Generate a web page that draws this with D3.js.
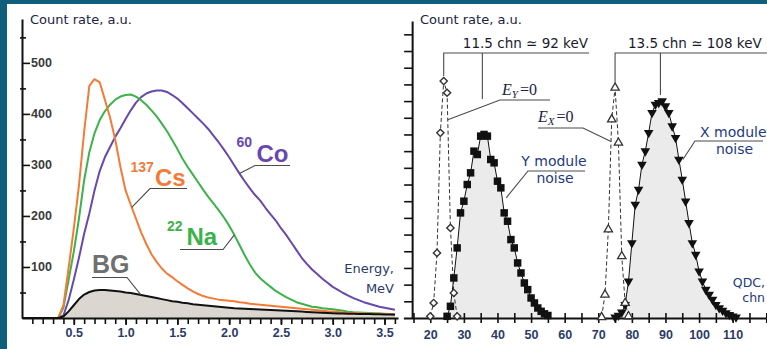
<!DOCTYPE html>
<html>
<head>
<meta charset="utf-8">
<script src="https://cdn.jsdelivr.net/npm/d3@7"></script>
<style>
  html, body { margin: 0; padding: 0; background: #0f5f7c; }
  svg { display: block; }
</style>
</head>
<body>
<svg id="chart" width="767" height="349"></svg>
<script>
// ---------- Left panel: scintillator spectra (energy in MeV) ----------
const energy = [0.00,
  0.35,0.40,0.45,0.50,0.55,0.60,0.65,0.70,0.75,0.80,0.85,0.90,0.95,1.00,1.05,1.10,1.15,1.20,1.25,1.30,
  1.35,1.40,1.45,1.50,1.55,1.60,1.65,1.70,1.75,1.80,1.85,1.90,1.95,2.00,2.05,2.10,2.15,2.20,2.25,2.30,
  2.35,2.40,2.45,2.50,2.55,2.60,2.65,2.70,2.75,2.80,2.85,2.90,2.95,3.00,3.05,3.10,3.15,3.20,3.25,3.30,
  3.35,3.40,3.45,3.50,3.55,3.60];
const cs137 = [0,
  0,25,98,175,260,365,455,468,462,428,393,350,296,250,222,195,168,145,125,110,
  97,87,80,72,65,58,52,47,43,40,38,36,35,34,33,31,30,28,27,26,
  25,24,23,22,21,20,19,18,17,16,15,14,13,12.5,12,11,10.5,10,9.5,9,
  9,8.5,8.5,8,8,8];
const na22 = [0,
  0,20,75,130,195,270,325,362,388,405,418,428,434,437,438,434,427,418,407,395,
  381,366,349,331,312,296,281,266,251,237,224,211,197,181,163,143,123,105,89,78,
  69,61,53,47,41,36,31,28,25,22,21,19,18,17,15.5,14,12.5,11.5,11,10.5,
  10,9.5,9,8.5,8,8];
const co60 = [0,
  0,5,35,75,118,165,205,250,288,315,335,355,372,390,407,422,433,440,444,446,
  446,443,437,430,421,411,401,391,381,370,357,344,330,315,299,283,268,254,241,230,
  216,203,191,176,163,148,133,118,106,95,86,77,69,61,55,49,44,39,35,31,
  28,25,22,20,18,16];
const background = [0,
  0,3,13,25,37,46,51,54,55,55,54,53,52,50,49,47,45,43,41,39,
  37,35,33,32,30,29,27,26,25,24,23,22,21,20,19,18.5,18,17.5,17,16.5,
  16,15.5,15,14.5,14,13.5,13,12.5,12,11.5,11,10.5,10,9.5,9,9,8.5,8.5,8,8,
  8,7.5,7.5,7,7,6.5];
const energyTicks = [0.5,1.0,1.5,2.0,2.5,3.0,3.5];
const energyMinorTicks = d3.range(1, 37).map(i => i / 10);
const countTicks = [100,200,300,400,500];
const countMinorTicks = [50,150,250,350,450,550];

// ---------- Right panel: QDC noise spectra (channels) ----------
const pedYChn = [20,21,22,23,24,25,26,27,28];
const pedY    = [1,9,39,111,142,135,54,15,1];
const noiseYChn = d3.range(25, 56);
const noiseY = [1,7,24,42,63,70,80,87,100,98,109,110,109,95,93,82,78,63,58,47,42,33,27,21,17,12,9,6,4,2.5,1.5];
const pedXChn = [71,72,73,74,75,76,77,78,79];
const pedX    = [0.5,14,53,119,138,105,37,9,1];
const noiseXChn = d3.range(75, 112);
const noiseX = [0.5,1.5,3.5,8,22,45,68,77,92,100,111,123,128,129,130,127,123,115,108,95,83,70,57,45,38,28,22,17,14,11,8,6,4.5,3,2,1,0.5];
const chnTicks = [20,30,40,50,60,70,80,90,100,110];
const chnMinorTicks = d3.range(15, 121, 5);
const countTicksR = d3.range(10, 171, 10);
// pedestal-to-noise peak distances, channels and keV
const gapY = { chn: 11.5, keV: 92 };
const gapX = { chn: 13.5, keV: 108 };

// ---------- colours and fonts ----------
const C = {
  frame: "#0f5f7c", cs: "#f47b36", na: "#3bb34a", co: "#6848ae", bg: "#6f6f6f",
  bgFill: "#dbd6cf", ink: "#1c2242", tickInk: "#2c3a66", yInk: "#3a3a3a",
  blue: "#243a80", lead: "#4a4a4a", noiseFill: "#ebebeb"
};
const SANS = "'DejaVu Sans', sans-serif";
const BOLD = "'Liberation Sans', Arial, sans-serif";
const SERIF = "'Liberation Serif', 'Times New Roman', serif";

const W = 767, H = 349;
const svg = d3.select("#chart");
svg.append("rect").attr("width", W).attr("height", H).attr("fill", C.frame);
svg.append("rect").attr("x", 7).attr("y", 4).attr("width", W - 7).attr("height", H - 4).attr("fill", "#fff");

// ================= LEFT PANEL =================
const xL = d3.scaleLinear().domain([0, 3.63]).range([22, 398]);
const yL = d3.scaleLinear().domain([0, 586]).range([318, 19]);
const left = svg.append("g");

const areaL = d3.area().x((d, i) => xL(energy[i])).y0(yL(0)).y1(d => yL(d));
const lineL = d3.line().x((d, i) => xL(energy[i])).y(d => yL(d));

left.append("path").attr("d", areaL(background)).attr("fill", C.bgFill);
[[co60, C.co], [na22, C.na], [cs137, C.cs]].forEach(([s, col]) => {
  left.append("path").attr("d", lineL(s)).attr("fill", "none")
    .attr("stroke", col).attr("stroke-width", 2).attr("stroke-linejoin", "round");
});
left.append("path").attr("d", lineL(background)).attr("fill", "none")
  .attr("stroke", "#111").attr("stroke-width", 2).attr("stroke-linejoin", "round");

// axes
const styleAxis = (g, w) => {
  g.select(".domain").attr("stroke", "#111").attr("stroke-width", w);
  g.selectAll(".tick line").attr("stroke", "#111").attr("stroke-width", 1.6);
};
left.append("g").attr("transform", `translate(0,${yL(0)})`)
  .call(d3.axisBottom(xL).tickValues(energyMinorTicks).tickSize(6).tickFormat("").tickSizeOuter(0))
  .call(g => styleAxis(g, 2));
left.append("g").attr("transform", `translate(0,${yL(0)})`)
  .call(d3.axisBottom(xL).tickValues(energyTicks).tickSize(7).tickPadding(3).tickFormat(d3.format(".1f")).tickSizeOuter(0))
  .call(g => { g.select(".domain").remove(); styleAxis(g, 2); })
  .call(g => g.selectAll("text").attr("font-family", BOLD).attr("font-weight", "bold")
    .attr("font-size", 12.5).attr("fill", C.tickInk));
left.append("g").attr("transform", `translate(${xL(0) - 2},0)`)
  .call(d3.axisRight(yL).tickValues(countMinorTicks).tickSize(6).tickFormat(""))
  .call(g => { g.select(".domain").remove(); styleAxis(g, 2); });
left.append("g").attr("transform", `translate(${xL(0)},0)`)
  .call(d3.axisRight(yL).tickValues(countTicks).tickSize(8).tickPadding(1).tickSizeOuter(0))
  .call(g => styleAxis(g, 2))
  .call(g => g.selectAll("text").attr("font-family", BOLD).attr("font-weight", "bold")
    .attr("font-size", 12.5).attr("fill", C.yInk));

left.append("text").attr("x", 30).attr("y", 24).attr("font-family", SANS).attr("font-size", 13)
  .attr("fill", C.ink).text("Count rate, a.u.");
left.append("text").attr("x", 394).attr("y", 273).attr("text-anchor", "end").attr("font-family", SANS)
  .attr("font-size", 13).attr("fill", C.tickInk).text("Energy,");
left.append("text").attr("x", 394).attr("y", 293).attr("text-anchor", "end").attr("font-family", SANS)
  .attr("font-size", 13).attr("fill", C.tickInk).text("MeV");

// source labels with underline and leader to the curve
const onCurve = s => d3.scaleLinear().domain(energy.slice(1)).range(s.slice(1));
function sourceLabel(o) {
  const g = left.append("g");
  if (o.sup) g.append("text").attr("x", o.supX).attr("y", o.base - 14.5).attr("font-family", BOLD)
    .attr("font-weight", "bold").attr("font-size", 14).attr("fill", o.color).text(o.sup);
  g.append("text").attr("x", o.x).attr("y", o.base).attr("font-family", BOLD).attr("font-weight", "bold")
    .attr("font-size", o.size).attr("fill", o.color).text(o.name);
  const ax = xL(o.at), ay = yL(onCurve(o.series)(o.at));
  g.append("path").attr("d", `M${o.u1},${o.uy}H${o.u0}L${ax},${ay}`)
    .attr("fill", "none").attr("stroke", C.lead).attr("stroke-width", 1.1);
}
sourceLabel({ name: "Cs", sup: "137", supX: 130.5, x: 155, base: 186, size: 24, color: C.cs,
  u0: 150, u1: 187, uy: 188.5, series: cs137, at: 1.06 });
sourceLabel({ name: "Na", sup: "22", supX: 167, x: 186.5, base: 245, size: 24, color: C.na,
  u0: 223, u1: 180, uy: 249.5, series: na22, at: 2.05 });
sourceLabel({ name: "Co", sup: "60", supX: 236.5, x: 256.5, base: 161.5, size: 24, color: C.co,
  u0: 255, u1: 290, uy: 165.5, series: co60, at: 2.10 });
sourceLabel({ name: "BG", x: 92, base: 273, size: 25, color: C.bg,
  u0: 127, u1: 92, uy: 277.5, series: background, at: 1.15 });

// ================= RIGHT PANEL =================
const xR = d3.scaleLinear().domain([12, 120.4]).range([403.4, 767.6]);
const yR = d3.scaleLinear().domain([0, 178]).range([318, 21]);
const yAxisChn = 14.6;
const right = svg.append("g");

const areaR = xs => d3.area().x((d, i) => xR(xs[i])).y0(yR(0)).y1(d => yR(d));
const lineR = xs => d3.line().x((d, i) => xR(xs[i])).y(d => yR(d));

right.append("path").attr("d", areaR(noiseYChn)(noiseY)).attr("fill", C.noiseFill);
right.append("path").attr("d", areaR(noiseXChn)(noiseX)).attr("fill", C.noiseFill);
right.append("path").attr("d", lineR(noiseYChn)(noiseY)).attr("fill", "none").attr("stroke", "#111").attr("stroke-width", 1);
right.append("path").attr("d", lineR(noiseXChn)(noiseX)).attr("fill", "none").attr("stroke", "#111").attr("stroke-width", 1);
right.append("path").attr("d", lineR(pedYChn)(pedY)).attr("fill", "none").attr("stroke", "#333")
  .attr("stroke-width", 1).attr("stroke-dasharray", "4,2.5");
right.append("path").attr("d", lineR(pedXChn)(pedX)).attr("fill", "none").attr("stroke", "#333")
  .attr("stroke-width", 1).attr("stroke-dasharray", "4,2.5");

// axes
right.append("g").attr("transform", `translate(0,${yR(0)})`)
  .call(d3.axisBottom(xR).tickValues(chnMinorTicks).tickSize(5).tickFormat("").tickSizeOuter(0))
  .call(g => styleAxis(g, 2));
right.append("g").attr("transform", `translate(0,${yR(0)})`)
  .call(d3.axisTop(xR).tickValues(chnMinorTicks).tickSize(5).tickFormat(""))
  .call(g => { g.select(".domain").remove(); styleAxis(g, 2); });
right.append("g").attr("transform", `translate(0,${yR(0)})`)
  .call(d3.axisBottom(xR).tickValues(chnTicks).tickSize(0).tickPadding(12))
  .call(g => g.select(".domain").remove())
  .call(g => g.selectAll("text").attr("font-family", BOLD).attr("font-weight", "bold")
    .attr("font-size", 12.5).attr("fill", C.tickInk));
right.append("g").attr("transform", `translate(${xR(yAxisChn)},0)`)
  .call(d3.axisLeft(yR).tickValues(countTicksR).tickSize(8).tickFormat("").tickSizeOuter(0))
  .call(g => styleAxis(g, 2));

// markers
const marks = (xs, ys, type, size, opts) => {
  right.append("g").selectAll("path").data(ys).join("path")
    .attr("d", d3.symbol().type(type).size(size)())
    .attr("transform", (d, i) => `translate(${xR(xs[i])},${yR(d)}) rotate(${opts.rot || 0})`)
    .attr("fill", opts.fill).attr("stroke", opts.stroke).attr("stroke-width", opts.sw || 0);
};
marks(noiseYChn, noiseY, d3.symbolSquare, 56, { fill: "#111", stroke: "none" });
marks(noiseXChn, noiseX, d3.symbolTriangle, 40, { fill: "#111", stroke: "none", rot: 180 });
marks(pedYChn, pedY, d3.symbolSquare, 26, { fill: "#fff", stroke: "#333", sw: 1.4, rot: 45 });
marks(pedXChn, pedX, d3.symbolTriangle, 30, { fill: "#fff", stroke: "#333", sw: 1.3 });

right.append("text").attr("x", 420).attr("y", 24).attr("font-family", SANS).attr("font-size", 13)
  .attr("fill", C.ink).text("Count rate, a.u.");

// peak distance brackets
const peakY = d3.max(pedY), peakYChn = pedYChn[pedY.indexOf(peakY)];
const peakX = d3.max(pedX), peakXChn = pedXChn[pedX.indexOf(peakX)];
const brY = 53;
function bracket(c0, top, gap, xEnd, drop, label, anchor, lx) {
  const x0 = xR(c0), x1 = xR(c0 + gap.chn);
  right.append("path").attr("d", `M${x0},${yR(top) - 5}V${brY}H${xEnd}M${x1},${brY}V${brY + drop}`)
    .attr("fill", "none").attr("stroke", C.lead).attr("stroke-width", 1.1);
  right.append("text").attr("x", lx).attr("y", brY - 5).attr("text-anchor", anchor)
    .attr("font-family", SANS).attr("font-size", 13.5).attr("fill", "#1a1a2e").text(label);
}
bracket(peakYChn, peakY, gapY, 589, 46, `${gapY.chn} chn \u2243 ${gapY.keV} keV`, "end", 588);
bracket(peakXChn, peakX, gapX, W, 42, `${gapX.chn} chn \u2243 ${gapX.keV} keV`, "start", 628);

// zero-energy and noise labels
const along = (xs, ys) => d3.scaleLinear().domain(xs).range(ys);
function leader(u0, u1, uy, cx, xs, ys, dx) {
  right.append("path").attr("d", `M${u1},${uy}H${u0}L${xR(cx) + (dx || 0)},${yR(along(xs, ys)(cx))}`)
    .attr("fill", "none").attr("stroke", C.lead).attr("stroke-width", 1.1);
}
function zeroLabel(x, y, sub) {
  const t = right.append("text").attr("x", x).attr("y", y).attr("font-family", SERIF)
    .attr("font-size", 16).attr("fill", C.ink);
  t.append("tspan").attr("font-style", "italic").text("E");
  t.append("tspan").attr("font-style", "italic").attr("font-size", 11).attr("dy", 3).text(sub);
  t.append("tspan").attr("dy", -3).attr("dx", 2).text("=0");
}
zeroLabel(502, 95, "Y");
leader(500, 550, 100, 25.2, pedYChn, pedY);
zeroLabel(538, 122, "X");
leader(583, 538, 128, 73.8, pedXChn, pedX);

const blueText = (x, y, s, anchor) => right.append("text").attr("x", x).attr("y", y)
  .attr("text-anchor", anchor || "start").attr("font-family", SANS).attr("font-size", 14)
  .attr("fill", C.blue).text(s);
blueText(554, 166, "Y module", "middle");
blueText(555, 183, "noise", "middle");
leader(528, 585, 171, 41.4, noiseYChn, noiseY, 4);
blueText(700, 137, "X module");
blueText(734.5, 154, "noise", "middle");
leader(695, 763, 141, 94.0, noiseXChn, noiseX, 4);

right.append("text").attr("x", 765).attr("y", 286.5).attr("text-anchor", "end").attr("font-family", SANS)
  .attr("font-size", 12.5).attr("fill", C.blue).text("QDC,");
right.append("text").attr("x", 765).attr("y", 301.5).attr("text-anchor", "end").attr("font-family", SANS)
  .attr("font-size", 12.5).attr("fill", C.blue).text("chn");
</script>
</body>
</html>
